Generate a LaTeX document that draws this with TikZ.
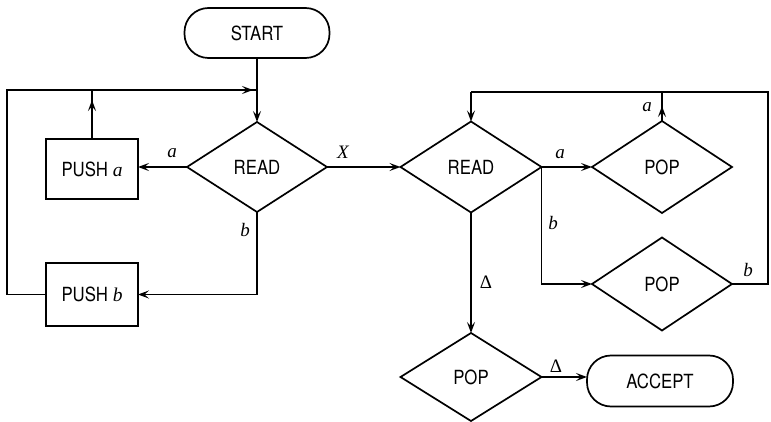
\documentclass[tikz,border=0pt]{standalone}
\usepackage{fontspec}
\newfontfamily\lblfont[FakeStretch=0.86]{TeX Gyre Heros}
\newfontfamily\varfont{Liberation Serif}
\usetikzlibrary{shapes.geometric,arrows.meta}
\begin{document}
\begin{tikzpicture}[x=1pt,y=-1pt,
  every node/.style={inner sep=0pt, outer sep=0pt},
  flow/.style={line width=1.7pt},
  arr/.style={flow, -{Stealth[length=11pt,width=8pt,inset=4.5pt]}},
  txt/.style={font=\lblfont\fontsize{19.5}{21}\selectfont},
  dia/.style={flow, draw, diamond, aspect=1.55, txt},
  box/.style={flow, draw, rectangle, txt},
  term/.style={flow, draw, rectangle, rounded corners=24pt, txt},
  lbl/.style={font=\varfont\fontsize{19}{21}\selectfont}
]
\useasboundingbox (0,0) rectangle (771,422);

% nodes
\node[term, minimum width=145pt, minimum height=50pt] (start) at (257,33) {START};
\node[dia, minimum width=140pt, minimum height=90pt] (read1) at (257,167) {READ};
\node[box, minimum width=92pt, minimum height=60pt] (pusha) at (92,169) {PUSH \textit{\varfont a}};
\node[box, minimum width=92pt, minimum height=63pt] (pushb) at (92,294.5) {PUSH \textit{\varfont b}};
\node[dia, minimum width=141pt, minimum height=91pt] (read2) at (471,167) {READ};
\node[dia, minimum width=140pt, minimum height=92pt] (pop1) at (662,167) {POP};
\node[dia, minimum width=140pt, minimum height=93pt] (pop2) at (662,284) {POP};
\node[dia, minimum width=141pt, minimum height=88pt] (pop3) at (471,377) {POP};
\node[term, minimum width=146pt, minimum height=51pt] (accept) at (660,381) {ACCEPT};

% coordinates
\coordinate (tl) at (7,90);
\coordinate (jA) at (92,90);
\coordinate (jS) at (257,90);
\coordinate (tS) at (253,90);
\coordinate (tA) at (92,100);
\coordinate (rr) at (768,92);
\coordinate (tr2) at (471,92);
\coordinate (tP) at (662,106);

% left part
\draw[arr] (start.south) -- (read1.north);
\draw[arr] (read1.west) -- (read1.west -| pusha.east);
\draw[flow] (pusha.north) -- (jA);
\draw[arr] (pusha.north) -- (tA);
\draw[flow] (pushb.west) -| (tl) -- (jS);
\draw[arr] (jA) -- (tS);
\draw[arr] (read1.south) |- (pushb.east);
\draw[arr] (read1.east) -- (read2.west);

% right part
\draw[arr] (read2.east) -- (pop1.west);
\draw[arr] (read2.east) |- (pop2.west);
\draw[arr] (read2.south) -- (pop3.north);
\draw[arr] (pop3.east) -- (pop3.east -| accept.west);
\draw[flow] (pop2.east) -- (pop2.east -| rr) -- (rr) -- (tr2);
\draw[arr] (tr2) -- (read2.north);
\draw[flow] (pop1.north) -- (pop1.north |- rr);
\draw[arr] (pop1.north) -- (tP);

% labels
\node[lbl] (la1) at (172,153) {\itshape a};
\node[lbl] (lx) at (343,152) {\itshape X};
\node[lbl] (lb1) at (245,230) {\itshape b};
\node[lbl] (la2) at (560,154) {\itshape a};
\node[lbl] (lb2) at (553,223) {\itshape b};
\node[lbl] (la3) at (647,107) {\itshape a};
\node[lbl] (lb3) at (748,270) {\itshape b};
\node[lbl] (ld1) at (486,282) {Δ};
\node[lbl] (ld2) at (556,366) {Δ};
\end{tikzpicture}
\end{document}
